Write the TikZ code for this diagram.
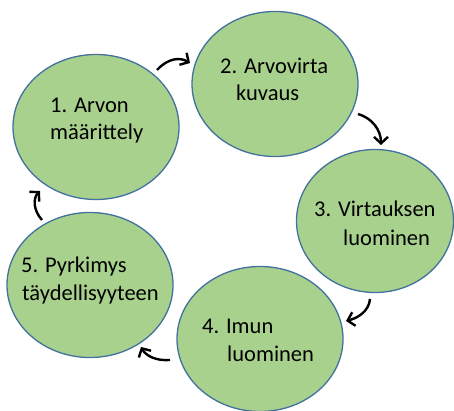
\documentclass[tikz,border=0pt]{standalone}
\usepackage{fontspec}
\setmainfont{Carlito}
\usetikzlibrary{arrows.meta,shapes.geometric}
\definecolor{fillgreen}{HTML}{A9D18E}
\definecolor{edgeblue}{HTML}{41719C}
\begin{document}
\begin{tikzpicture}[x=1pt,y=-1pt,
  stage/.style={ellipse, draw=edgeblue, fill=fillgreen, line width=1.3pt,
    minimum width=166pt, minimum height=145pt, inner sep=0pt},
  lbl/.style={anchor=base west, inner sep=0pt, text=black,
    font=\fontsize{22.5}{27}\selectfont},
  flow/.style={line width=2.4pt, -{Straight Barb[length=6.5pt,width=14pt]}}]
\useasboundingbox (0,0) rectangle (454,411);
\node[stage] (e1) at (96,127) {};
\node[stage] (e2) at (275,84) {};
\node[stage, minimum width=157pt, minimum height=143pt] (e3) at (375,221) {};
\node[stage] (e4) at (260,339) {};
\node[stage] (e5) at (90,285) {};
% labels
\node[lbl] (t1a) at (50,113) {1. Arvon};
\node[lbl] (t1b) at (50,140) {määrittely};
\node[lbl] (t2a) at (220,74) {2. Arvovirta};
\node[lbl] (t2b) at (236,101) {kuvaus};
\node[lbl] (t3a) at (314,217) {3. Virtauksen};
\node[lbl] (t3b) at (343,245) {luominen};
\node[lbl] (t4a) at (202,333) {4. Imun};
\node[lbl] (t4b) at (227,361) {luominen};
\node[lbl] (t5a) at (21,272) {5. Pyrkimys};
\node[lbl] (t5b) at (22,300) {täydellisyyteen};
% arrow end points
\coordinate (a12s) at (157,70);
\coordinate (a12e) at (190,63);
\coordinate (a23s) at (358,114);
\coordinate (a23e) at (381,145);
\coordinate (a34s) at (370,299);
\coordinate (a34e) at (346,321);
\coordinate (a45s) at (170,360);
\coordinate (a45e) at (141,347);
\coordinate (a51s) at (42,220);
\coordinate (a51e) at (40,191);
\draw[flow] (a12s) .. controls (168,58) and (180,57) .. (a12e);
\draw[flow] (a23s) .. controls (372,118) and (381,130) .. (a23e);
\draw[flow] (a34s) .. controls (369,311) and (358,318) .. (a34e);
\draw[flow] (a45s) .. controls (156,361) and (146,356) .. (a45e);
\draw[flow] (a51s) .. controls (33,210) and (33,198) .. (a51e);
\end{tikzpicture}
\end{document}
